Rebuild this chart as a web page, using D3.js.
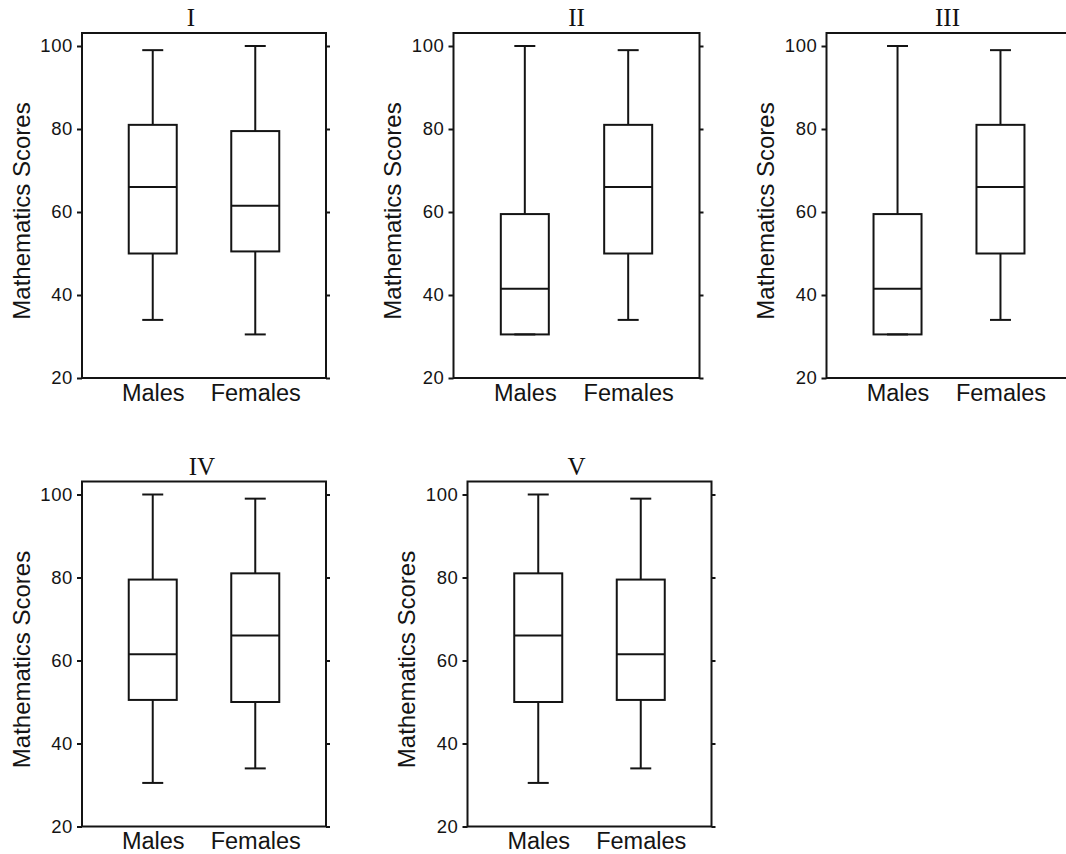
<!DOCTYPE html>
<html>
<head>
<meta charset="utf-8">
<script src="https://cdn.jsdelivr.net/npm/d3@7"></script>
<style>
  html, body { margin: 0; padding: 0; background: #fff; }
  svg { display: block; }
  .tick text { font-family: "Liberation Sans", Arial, sans-serif; }
</style>
</head>
<body>
<svg id="chart" width="1066" height="854"></svg>
<script>
// Five-scenario comparison of mathematics scores by gender (box plots)
const panelNames = ["I", "II", "III", "IV", "V"];
const groups = ["Males", "Females"];
const yTicks = [20, 40, 60, 80, 100];

// Five-number summaries per panel, one value per panel
const malesMin    = [34, 30.5, 30.5, 30.5, 30.5];
const malesQ1     = [50, 30.5, 30.5, 50.5, 50];
const malesMedian = [66, 41.5, 41.5, 61.5, 66];
const malesQ3     = [81, 59.5, 59.5, 79.5, 81];
const malesMax    = [99, 100, 100, 100, 100];

const femalesMin    = [30.5, 34, 34, 34, 34];
const femalesQ1     = [50.5, 50, 50, 50, 50.5];
const femalesMedian = [61.5, 66, 66, 66, 61.5];
const femalesQ3     = [79.5, 81, 81, 81, 79.5];
const femalesMax    = [100, 99, 99, 99, 99];

// Panel frames on the page
const layout = [
  { x: 82,    y: 33,    w: 244, titleDx: 109 },
  { x: 453.5, y: 33,    w: 246, titleDx: 123 },
  { x: 826.5, y: 33,    w: 245, titleDx: 121 },
  { x: 82,    y: 481.5, w: 244, titleDx: 120 },
  { x: 467.5, y: 481.5, w: 244, titleDx: 109 }
];
const frameH = 345;
const ink = "#141414";

const svg = d3.select("#chart");

const y = d3.scaleLinear().domain([20, 100]).range([frameH, 13]);

panelNames.forEach((name, i) => {
  const L = layout[i];
  const g = svg.append("g").attr("transform", `translate(${L.x},${L.y})`);

  const x = d3.scalePoint().domain(groups).range([0, L.w]).padding(0.69);

  const stats = [
    { group: "Males",   min: malesMin[i],   q1: malesQ1[i],   med: malesMedian[i],   q3: malesQ3[i],   max: malesMax[i] },
    { group: "Females", min: femalesMin[i], q1: femalesQ1[i], med: femalesMedian[i], q3: femalesQ3[i], max: femalesMax[i] }
  ];

  // frame
  g.append("rect")
    .attr("x", 0).attr("y", 0)
    .attr("width", L.w).attr("height", frameH)
    .attr("fill", "none").attr("stroke", ink).attr("stroke-width", 2);

  // left axis with labels
  const left = g.append("g")
    .call(d3.axisLeft(y).tickValues(yTicks).tickSize(5).tickPadding(4).tickFormat(d3.format("d")));
  left.select(".domain").remove();
  left.selectAll(".tick line").attr("stroke", ink).attr("stroke-width", 2);
  left.selectAll(".tick text")
    .attr("fill", ink)
    .style("font-size", "18.5px")
    .style("letter-spacing", "0.6px");

  // right axis ticks only
  const right = g.append("g")
    .attr("transform", `translate(${L.w},0)`)
    .call(d3.axisRight(y).tickValues(yTicks).tickSize(4).tickFormat(""));
  right.select(".domain").remove();
  right.selectAll(".tick line").attr("stroke", ink).attr("stroke-width", 2);

  // category labels
  const bottom = g.append("g")
    .attr("transform", `translate(0,${frameH})`)
    .call(d3.axisBottom(x).tickSize(0).tickPadding(6));
  bottom.select(".domain").remove();
  bottom.selectAll(".tick text")
    .attr("fill", ink)
    .style("font-size", "23.5px");

  // y axis title
  g.append("text")
    .attr("transform", `translate(-61,${178}) rotate(-90)`)
    .attr("text-anchor", "middle")
    .attr("dominant-baseline", "central")
    .attr("fill", ink)
    .style("font-family", "'Liberation Sans', Arial, sans-serif")
    .style("font-size", "24px")
    .text("Mathematics Scores");

  // panel title
  g.append("text")
    .attr("x", L.titleDx)
    .attr("y", -7)
    .attr("text-anchor", "middle")
    .attr("fill", "#111")
    .style("font-family", "'Liberation Serif', 'Times New Roman', serif")
    .style("font-size", "25px")
    .text(name);

  // box plots
  const boxW = 48, capW = 21;
  const box = g.selectAll(".box").data(stats).join("g")
    .attr("class", "box")
    .attr("transform", d => `translate(${x(d.group)},0)`);

  box.append("line") // upper whisker
    .attr("x1", 0).attr("x2", 0)
    .attr("y1", d => y(d.q3)).attr("y2", d => y(d.max));
  box.append("line") // lower whisker
    .attr("x1", 0).attr("x2", 0)
    .attr("y1", d => y(d.q1)).attr("y2", d => y(d.min));
  box.append("line") // top cap
    .attr("x1", -capW / 2).attr("x2", capW / 2)
    .attr("y1", d => y(d.max)).attr("y2", d => y(d.max));
  box.append("line") // bottom cap
    .attr("x1", -capW / 2).attr("x2", capW / 2)
    .attr("y1", d => y(d.min)).attr("y2", d => y(d.min));
  box.append("rect")
    .attr("x", -boxW / 2).attr("width", boxW)
    .attr("y", d => y(d.q3))
    .attr("height", d => y(d.q1) - y(d.q3))
    .attr("fill", "none");
  box.append("line") // median
    .attr("x1", -boxW / 2).attr("x2", boxW / 2)
    .attr("y1", d => y(d.med)).attr("y2", d => y(d.med));

  box.selectAll("line, rect")
    .attr("stroke", ink).attr("stroke-width", 2);
});
</script>
</body>
</html>
